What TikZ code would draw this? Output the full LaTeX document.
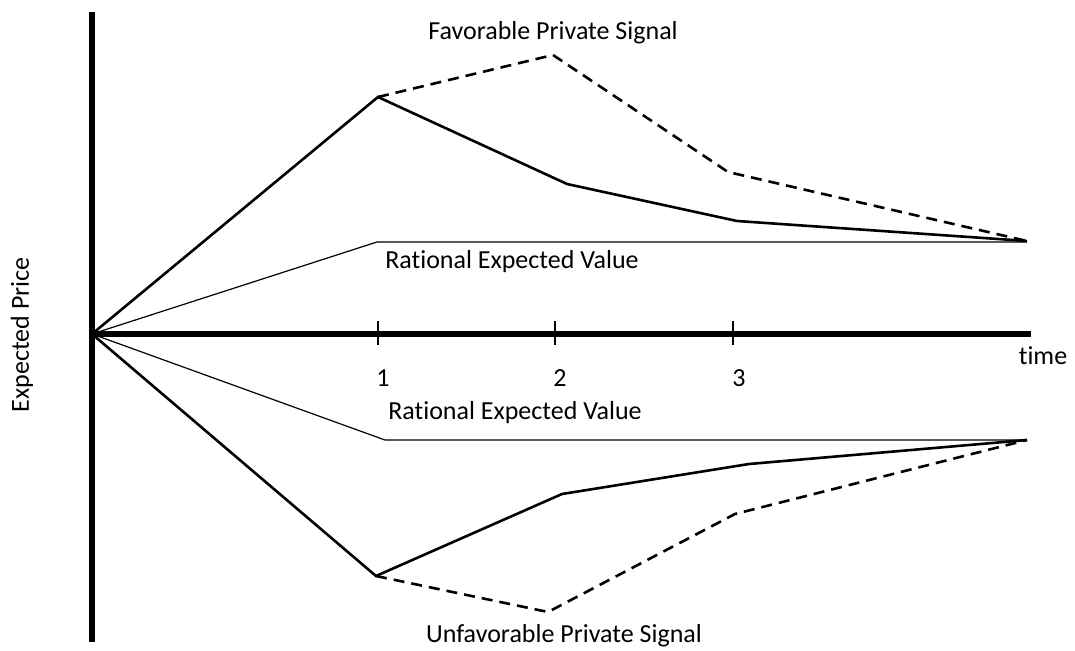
\documentclass[tikz,border=0pt]{standalone}
\usepackage{fontspec}
\setmainfont[Ligatures=CommonOff]{Carlito}
\begin{document}
\begin{tikzpicture}[x=1pt,y=-1pt,
  axis/.style={line width=5.5pt},
  path/.style={line width=2.6pt,line join=miter},
  dpath/.style={line width=2.6pt,dash pattern=on 11pt off 7pt},
  rational/.style={line width=1.2pt},
  tickmark/.style={line width=2pt},
  lbl/.style={font=\fontsize{26}{30}\selectfont,inner sep=0pt}]
\useasboundingbox (0,0) rectangle (1075,650);
% axes
\coordinate (O) at (92,334);
\coordinate (ytop) at (92,12);
\coordinate (ybot) at (92,642);
\coordinate (xend) at (1031,334);
\draw[axis] (ytop) -- (ybot);
\draw[axis] (O) -- (xend);
% ticks
\coordinate (t1a) at (378,321); \coordinate (t1b) at (378,345);
\coordinate (t2a) at (555,321); \coordinate (t2b) at (555,345);
\coordinate (t3a) at (733,321); \coordinate (t3b) at (733,345);
\draw[tickmark] (t1a) -- (t1b);
\draw[tickmark] (t2a) -- (t2b);
\draw[tickmark] (t3a) -- (t3b);
\node[lbl] (n1) at (383,378) {1};
\node[lbl] (n2) at (560,378) {2};
\node[lbl] (n3) at (739,378) {3};
\node[lbl] (time) at (1043,356) {time};
\node[lbl,rotate=90] (ylab) at (22,335) {Expected Price};
% upper
\coordinate (U1) at (378,97);
\coordinate (U2) at (567,184);
\coordinate (U3) at (737,221);
\coordinate (E) at (1027,241);
\coordinate (UD2) at (553,55);
\coordinate (UD3) at (728,172);
\coordinate (UR1) at (377,242);
\coordinate (UR2) at (1027,242);
\draw[rational] (O) -- (UR1) -- (UR2);
\draw[path] (O) -- (U1) -- (U2) -- (U3) -- (E);
\draw[dpath] (U1) -- (UD2) -- (UD3) -- (E);
\node[lbl] (fav) at (553,33) {Favorable Private Signal};
\node[lbl] (urv) at (512,262) {Rational Expected Value};
% lower
\coordinate (L1) at (376,576);
\coordinate (L2) at (562,494);
\coordinate (L3) at (749,464);
\coordinate (F) at (1027,440);
\coordinate (LD2) at (548,612);
\coordinate (LD3) at (735,514);
\coordinate (LR1) at (385,440);
\coordinate (LR2) at (1027,440);
\draw[rational] (O) -- (LR1) -- (LR2);
\draw[path] (O) -- (L1) -- (L2) -- (L3) -- (F);
\draw[dpath] (L1) -- (LD2) -- (LD3) -- (F);
\node[lbl] (lrv) at (515,413) {Rational Expected Value};
\node[lbl] (unf) at (564,636) {Unfavorable Private Signal};
\end{tikzpicture}
\end{document}
